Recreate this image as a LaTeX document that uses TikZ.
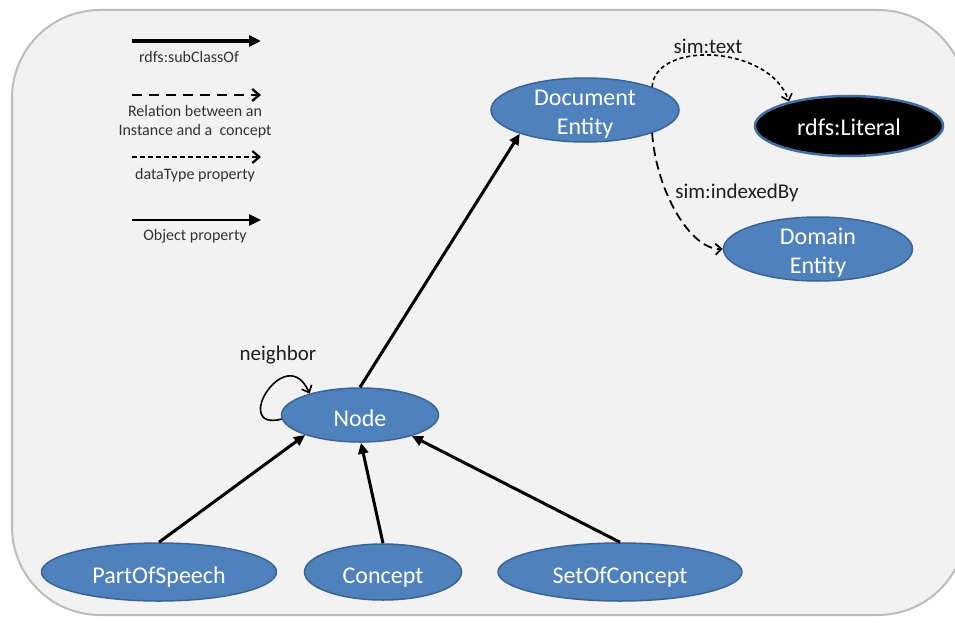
\documentclass[tikz,border=0pt]{standalone}
\usepackage{fontspec}
\setmainfont{Carlito}
\usetikzlibrary{arrows.meta,shapes.geometric}
\definecolor{panel}{HTML}{F2F2F2}
\definecolor{panelrim}{HTML}{BDBDBD}
\definecolor{entfill}{HTML}{4F81BD}
\definecolor{entrim}{HTML}{3A6494}
\definecolor{ink}{HTML}{1E1E1E}
\definecolor{legendink}{HTML}{333333}

\begin{document}
\begin{tikzpicture}[x=1pt,y=1pt,
  ent/.style={ellipse, fill=entfill, draw=entrim, line width=1.5pt, inner sep=0pt,
    text=white, text height=22pt, text depth=0pt, font=\fontsize{24}{29}\selectfont},
  enttext/.style={text=white, align=center, inner sep=0pt, font=\fontsize{24}{29}\selectfont},
  litbox/.style={ellipse, fill=black, draw=entfill!85!black, line width=2.5pt, inner sep=0pt,
    text=white, text height=19pt, text depth=0pt, font=\fontsize{24}{29}\selectfont},
  edgelabel/.style={text=ink, inner sep=0pt, font=\fontsize{21}{25}\selectfont},
  legendlabel/.style={text=legendink, inner sep=0pt, align=center, font=\fontsize{16}{19}\selectfont},
  subclass/.style={line width=3pt, -{Triangle[length=11pt,width=10pt]}},
  objprop/.style={line width=1.6pt, -{Straight Barb[length=6pt,width=11pt,line width=1.6pt]}},
  instrel/.style={line width=1.8pt, dash pattern=on 9pt off 5pt, -{Straight Barb[length=6pt,width=11pt,line width=1.8pt]}},
  dataprop/.style={line width=1.6pt, dash pattern=on 4pt off 3pt, -{Straight Barb[length=6pt,width=11pt,line width=1.6pt]}},
]
% canvas and rounded panel
\clip (0,0) rectangle (955,-623);
\fill[white] (0,0) rectangle (955,-623);
\draw[panelrim, fill=panel, line width=2pt, rounded corners=88pt] (12,-10) rectangle (966,-615);

% legend
\coordinate (lga) at (132,-41);  \coordinate (lgb) at (261,-41);
\coordinate (lha) at (132,-95);  \coordinate (lhb) at (261,-95);
\coordinate (lia) at (132,-157); \coordinate (lib) at (261,-157);
\coordinate (lja) at (132,-220); \coordinate (ljb) at (261,-220);
\draw[line width=3.5pt, -{Triangle[length=12pt,width=11pt]}] (lga) -- (lgb);
\draw[line width=2.6pt, dash pattern=on 10pt off 7pt, -{Straight Barb[length=7pt,width=12pt,line width=2.4pt]}] (lha) -- (lhb);
\draw[line width=2.2pt, dash pattern=on 5pt off 3pt, -{Straight Barb[length=7pt,width=12pt,line width=2.2pt]}] (lia) -- (lib);
\draw[line width=2.6pt, -{Triangle[length=12pt,width=11pt]}] (lja) -- (ljb);
\node[legendlabel] (lgt) at (189,-57) {rdfs:subClassOf};
\node[legendlabel] (lht) at (195,-122) {Relation between an\\Instance and a\ \ concept};
\node[legendlabel] (lit) at (195,-175) {dataType property};
\node[legendlabel] (ljt) at (195,-236) {Object property};

% entities
\node[ent, minimum width=188pt, minimum height=64pt] (doc) at (585,-110) {};
\node[enttext] (doct) at (585,-114) {Document\\Entity};
\node[litbox, minimum width=188pt, minimum height=60pt] (lit) at (849,-126) {rdfs:Literal};
\node[ent, minimum width=189pt, minimum height=64pt] (dom) at (818,-249) {};
\node[enttext] (domt) at (818,-253) {Domain\\Entity};
\node[ent, minimum width=157pt, minimum height=54pt] (nd) at (360,-415) {Node};
\node[ent, minimum width=235pt, minimum height=58pt] (pos) at (159,-572) {PartOfSpeech};
\node[ent, minimum width=157pt, minimum height=56pt] (cpt) at (383,-572) {Concept};
\node[ent, minimum width=244pt, minimum height=58pt] (soc) at (620,-572) {SetOfConcept};

% subclass links
\draw[subclass] (nd.north) -- (doc.200);
\draw[subclass] (pos.north) -- (nd.200);
\draw[subclass] (cpt.north) -- (nd.272);
\draw[subclass] (soc.north) -- (nd.338);

% neighbour self-loop
\draw[objprop] (nd.183) .. controls (230,-432) and (286,-340) .. (nd.157);
\node[edgelabel] (nbl) at (278,-355) {neighbor};

% properties of the document entity
\draw[dataprop] (doc.19) .. controls (655,-40) and (770,-45) .. (lit.158);
\node[edgelabel] (stl) at (708,-46) {sim:text};
\draw[instrel] (doc.341) .. controls (656,-190) and (690,-250) .. (dom.west);
\node[edgelabel] (sil) at (737,-193) {sim:indexedBy};
\end{tikzpicture}
\end{document}
